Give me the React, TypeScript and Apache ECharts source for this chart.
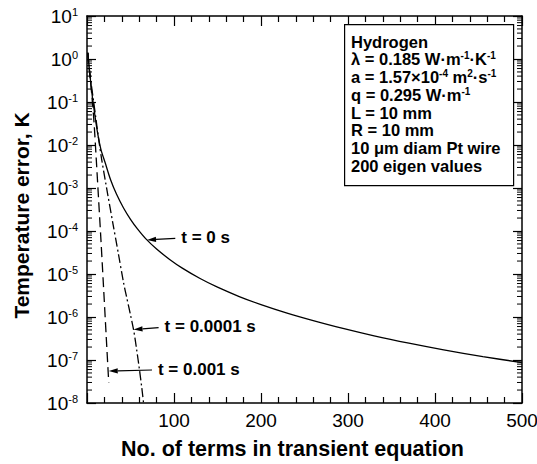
import React, { useEffect, useRef } from 'react';
import * as echarts from 'echarts';

const FAMILY = '"Liberation Sans", Arial, Helvetica, sans-serif';

// t = 0 s (solid)
const nSolid = [1, 2, 4, 6, 9, 12, 16, 21, 27, 34, 42, 50, 58, 68, 80, 95, 110, 130, 150, 175, 200, 230, 260, 293, 330, 370, 410, 455, 500];
const errSolid = [1.4, 0.8, 0.32, 0.14, 0.05, 0.02, 7.9e-3, 3.8e-3, 1.58e-3, 7.13e-4, 3.43e-4, 1.87e-4, 1.12e-4, 6.46e-5, 3.81e-5, 2.18e-5, 1.35e-5, 7.85e-6, 4.93e-6, 2.99e-6, 1.94e-6, 1.23e-6, 8.26e-7, 5.5e-7, 3.65e-7, 2.46e-7, 1.72e-7, 1.2e-7, 8.71e-8];

// t = 0.0001 s (dash-dot)
const nDashDot = [1, 2, 4, 7, 10, 13, 17, 24, 30, 36, 42, 46, 50, 54, 57, 60, 63, 65];
const errDashDot = [1.4, 0.8, 0.355, 0.126, 0.0447, 0.0158, 4.47e-3, 6.76e-4, 1.41e-4, 3.02e-5, 6.31e-6, 2.63e-6, 1.12e-6, 4.47e-7, 1.78e-7, 6.61e-8, 2.24e-8, 1e-8];

// t = 0.001 s (dashed)
const nDashed = [1, 2, 4, 6, 8, 10.7, 13, 16, 19, 22, 25];
const errDashed = [1.4, 0.75, 0.316, 0.112, 0.0355, 4.47e-3, 7.08e-4, 6.31e-5, 5.01e-6, 3.8e-7, 2.95e-8];

// annotations (arrow tip -> tail, label)
const annotLabels = ['t = 0 s', 't = 0.0001 s', 't = 0.001 s'];
const arrowTipN = [69, 53.5, 25];
const arrowTipErr = [6.18e-5, 5.13e-7, 5.55e-8];
const arrowTailN = [101.5, 82.3, 74.7];
const arrowTailErr = [6.76e-5, 5.64e-7, 5.85e-8];

// x-axis ticks
const xMin = 0;
const xMax = 500;
const xInterval = 100;
// y-axis decades
const yMin = 1e-8;
const yMax = 10;

// info box lines (rich text, {s|..} = superscript)
const infoLines = [
  'Hydrogen',
  'λ = 0.185 W·m{s|-1}·K{s|-1}',
  'a = 1.57×10{s|-4} m{s|2}·s{s|-1}',
  'q = 0.295 W·m{s|-1}',
  'L = 10 mm',
  'R = 10 mm',
  '10 μm diam Pt wire',
  '200 eigen values',
];

function minorLogValues(): number[] {
  const out: number[] = [];
  for (let d = -8; d <= 0; d++) {
    for (let m = 2; m <= 9; m++) out.push(m * Math.pow(10, d));
  }
  return out;
}

export default function App() {
  const ref = useRef<HTMLDivElement>(null);
  useEffect(() => {
    if (!ref.current) return;
    const chart = echarts.init(ref.current, undefined, { renderer: 'svg' });
    const zip = (a: number[], b: number[]) => a.map((v, i) => [v, b[i]]);

    const commonX = {
      type: 'value',
      min: xMin,
      max: xMax,
      interval: xInterval,
      splitLine: { show: false },
      axisLine: { show: true, onZero: false, lineStyle: { color: '#000', width: 1.5 } },
      axisTick: { show: true, inside: true, length: 10, lineStyle: { color: '#000', width: 1.2 } },
      minorTick: { show: true, splitNumber: 5, length: 6, lineStyle: { color: '#000', width: 1.2 } },
      minorSplitLine: { show: false },
    };
    const commonY = {
      type: 'log',
      logBase: 10,
      min: yMin,
      max: yMax,
      splitNumber: 9,
      splitLine: { show: false },
      axisLine: { show: true, onZero: false, lineStyle: { color: '#000', width: 1.5 } },
      axisTick: { show: true, inside: true, length: 9, lineStyle: { color: '#000', width: 1.2 } },
    };

    const option: any = {
      animation: false,
      backgroundColor: '#fff',
      grid: { left: 87, right: 15, top: 16, bottom: 61, containLabel: false, outerBoundsMode: 'none' },
      xAxis: [
        {
          ...commonX,
          position: 'bottom',
          name: 'No. of terms in transient equation',
          nameLocation: 'middle',
          nameGap: 35,
          nameTextStyle: { fontSize: 21.5, fontWeight: 'bold', color: '#000', fontFamily: FAMILY, padding: [0, 24, 0, 0] },
          axisLabel: {
            show: true,
            margin: 8,
            fontSize: 19,
            color: '#000',
            fontFamily: FAMILY,
            formatter: (v: number) => (v === 0 ? '' : String(v)),
          },
        },
        { ...commonX, position: 'top', axisLabel: { show: false } },
      ],
      yAxis: [
        {
          ...commonY,
          position: 'left',
          name: 'Temperature error, K',
          nameLocation: 'middle',
          nameGap: 55,
          nameTextStyle: { fontSize: 21, fontWeight: 'bold', color: '#000', fontFamily: FAMILY, padding: [0, 12, 0, 0] },
          axisLabel: {
            show: true,
            margin: 9,
            fontSize: 19,
            fontFamily: FAMILY,
            color: '#000',
            formatter: (v: number) => `{b|10}{s|${Math.round(Math.log10(v))}}`,
            rich: {
              b: { fontSize: 19, color: '#000', fontFamily: FAMILY, lineHeight: 19, verticalAlign: 'bottom' },
              s: { fontSize: 11, color: '#000', fontFamily: FAMILY, lineHeight: 11, verticalAlign: 'top' },
            },
          },
        },
        { ...commonY, position: 'right', axisLabel: { show: false } },
      ],
      series: [
        {
          type: 'line',
          name: 't = 0 s',
          data: zip(nSolid, errSolid),
          showSymbol: false,
          smooth: 0.3,
          lineStyle: { color: '#000', width: 1.3, type: 'solid' },
        },
        {
          type: 'line',
          name: 't = 0.0001 s',
          data: zip(nDashDot, errDashDot),
          showSymbol: false,
          smooth: 0.3,
          lineStyle: { color: '#000', width: 1.3, type: [9, 3, 2, 3] },
        },
        {
          type: 'line',
          name: 't = 0.001 s',
          data: zip(nDashed, errDashed),
          showSymbol: false,
          smooth: 0.3,
          lineStyle: { color: '#000', width: 1.3, type: [10, 5] },
        },
        {
          type: 'custom',
          name: 'minorLogTicks',
          silent: true,
          clip: false,
          z: 5,
          data: minorLogValues().map((v) => [xMin, v]),
          renderItem: (params: any, api: any) => {
            const p = api.coord([xMin, api.value(1)]);
            const cs = params.coordSys;
            const st = { stroke: '#000', lineWidth: 1 };
            return {
              type: 'group',
              children: [
                { type: 'line', shape: { x1: cs.x, y1: p[1], x2: cs.x + 5, y2: p[1] }, style: st },
                { type: 'line', shape: { x1: cs.x + cs.width, y1: p[1], x2: cs.x + cs.width - 5, y2: p[1] }, style: st },
              ],
            };
          },
        },
        {
          type: 'custom',
          name: 'annotations',
          silent: true,
          clip: false,
          z: 6,
          data: annotLabels.map((_, i) => [arrowTipN[i], arrowTipErr[i], arrowTailN[i], arrowTailErr[i]]),
          renderItem: (params: any, api: any) => {
            const i = params.dataIndex;
            const tip = api.coord([api.value(0), api.value(1)]);
            const tail = api.coord([api.value(2), api.value(3)]);
            const dx = tail[0] - tip[0];
            const dy = tail[1] - tip[1];
            const len = Math.sqrt(dx * dx + dy * dy) || 1;
            const ux = dx / len;
            const uy = dy / len;
            const L = 9;
            const W = 2.6;
            const bx = tip[0] + ux * L;
            const by = tip[1] + uy * L;
            return {
              type: 'group',
              children: [
                { type: 'line', shape: { x1: bx, y1: by, x2: tail[0], y2: tail[1] }, style: { stroke: '#000', lineWidth: 1.2 } },
                {
                  type: 'polygon',
                  shape: { points: [[tip[0], tip[1]], [bx - uy * W, by + ux * W], [bx + uy * W, by - ux * W]] },
                  style: { fill: '#000' },
                },
                {
                  type: 'text',
                  x: tail[0] + 6,
                  y: tail[1] - 1,
                  style: { text: annotLabels[i], font: `bold 17px ${FAMILY}`, fill: '#000', align: 'left', verticalAlign: 'middle' },
                },
              ],
            };
          },
        },
      ],
      graphic: [
        {
          type: 'rect',
          left: 344,
          top: 24,
          shape: { x: 0, y: 0, width: 169, height: 161 },
          style: { fill: '#fff', stroke: '#000', lineWidth: 1.2 },
          z: 10,
        },
        ...infoLines.map((t, i) => ({
          type: 'text',
          x: 351,
          y: 41.7 + i * 17.7,
          z: 11,
          style: {
            text: t,
            font: `bold 16.5px ${FAMILY}`,
            fill: '#000',
            align: 'left',
            verticalAlign: 'middle',
            rich: {
              s: { font: `bold 10px ${FAMILY}`, fill: '#000', verticalAlign: 'top', lineHeight: 10 },
            },
          },
        })),
      ],
    };
    chart.setOption(option);
    return () => chart.dispose();
  }, []);
  return (
    <div
      ref={ref}
      style={{ position: 'fixed', left: 0, top: 0, width: 537, height: 464, background: '#fff' }}
    />
  );
}
